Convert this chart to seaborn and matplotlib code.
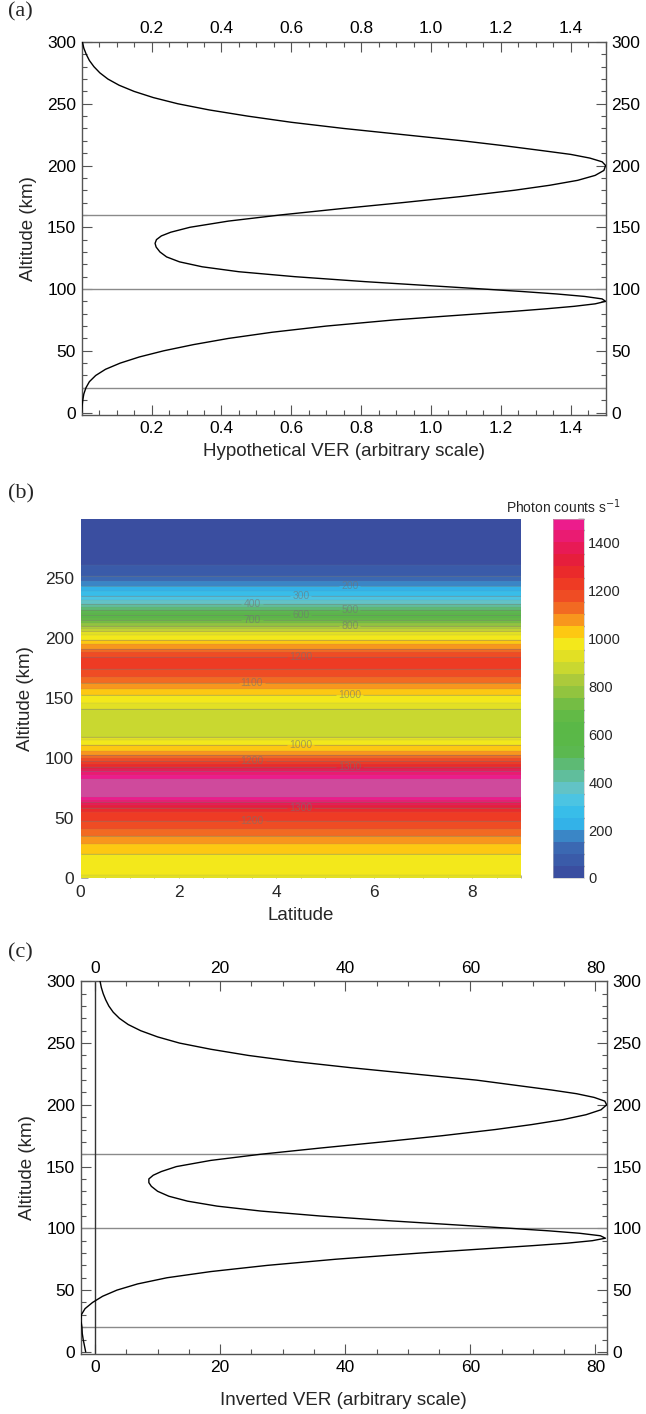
import numpy as np
import matplotlib
matplotlib.use("Agg")
import matplotlib as mpl
import matplotlib.pyplot as plt
from matplotlib.colors import ListedColormap, BoundaryNorm
from matplotlib.ticker import MultipleLocator
import seaborn as sns

# ---------------- data ----------------
# (a) hypothetical VER profile
alt_a = [0, 5, 10, 15, 20, 25, 30, 35, 40, 45, 50, 55, 60, 65, 70, 75,
         78, 80, 82, 84, 86, 88, 90, 92, 94, 96, 98, 100,
         103, 106, 110, 114, 118, 122, 126, 130, 134, 137, 140, 143, 146, 150,
         155, 160, 165, 170, 175, 180,
         184, 188, 192, 196, 200, 203, 206, 209, 212, 216, 220,
         225, 230, 235, 240, 245, 250, 255, 260, 265, 270, 275, 280, 285, 290, 295, 300]
ver_a = [0.000, 0.001, 0.003, 0.006, 0.012, 0.022, 0.040, 0.068, 0.110, 0.165, 0.235,
         0.320, 0.420, 0.545, 0.700, 0.895,
         1.040, 1.140, 1.240, 1.330, 1.410, 1.470, 1.500, 1.490, 1.440, 1.360, 1.260, 1.150,
         0.980, 0.810, 0.610, 0.450, 0.345, 0.280, 0.243, 0.224, 0.213, 0.210, 0.214,
         0.228, 0.255, 0.310,
         0.420, 0.570, 0.740, 0.920, 1.090, 1.240,
         1.340, 1.420, 1.470, 1.495, 1.500, 1.490, 1.455, 1.400, 1.320, 1.210, 1.090,
         0.920, 0.750, 0.600, 0.475, 0.365, 0.275, 0.205, 0.150, 0.107, 0.075, 0.052,
         0.035, 0.022, 0.013, 0.006, 0.002]

# (c) inverted VER profile
alt_c = alt_a
ver_c = [-1.5, -1.7, -1.9, -2.05, -2.1, -2.25, -2.2, -1.6, -0.4, 1.2, 3.5, 6.8, 11.5,
         18.5, 27.5, 38.5,
         46.5, 52.0, 58.0, 64.0, 70.0, 75.5, 79.5, 81.6, 80.8, 77.5, 72.5, 66.5,
         57.0, 47.5, 36.0, 26.5, 19.5, 14.8, 11.8, 10.0, 9.0, 8.6, 8.6, 9.3, 10.6, 13.0,
         18.5, 26.5, 36.0, 46.0, 55.5, 64.0,
         69.8, 74.8, 78.5, 80.9, 81.8, 81.5, 79.8, 77.0, 73.0, 67.0, 61.0,
         51.0, 41.0, 32.0, 24.5, 18.5, 13.5, 10.0, 7.3, 5.3, 3.9, 2.9, 2.2, 1.7, 1.3,
         1.0, 0.8]

ref_lines = [20, 100, 160]

# (b) photon counts vs altitude (constant with latitude)
alt_b = [0, 3, 10, 20, 25, 30, 35, 40, 45, 50, 55, 60, 63, 66, 70, 75, 80, 83, 86, 89,
         92, 96, 100, 103, 106, 110, 115, 118, 125, 130, 135, 141, 146, 152, 156, 160,
         164, 168, 174, 180, 184, 188, 191, 195, 199, 203, 206, 209, 213, 217, 222, 226,
         230, 234, 238, 242, 246, 249, 252, 256, 260, 263, 270, 280, 290, 300]
counts_b = [930, 955, 975, 1000, 1030, 1060, 1100, 1145, 1180, 1215, 1250, 1330, 1400,
            1480, 1530, 1550, 1530, 1500, 1450, 1400, 1320, 1230, 1150, 1100, 1050, 1010,
            960, 900, 880, 875, 880, 900, 950, 990, 1030, 1075, 1110, 1150, 1200, 1230,
            1210, 1160, 1100, 1050, 1000, 950, 900, 830, 750, 650, 540, 450, 380, 320,
            270, 220, 170, 130, 100, 75, 55, 45, 25, 10, 4, 2]
lat_b = [0, 1, 2, 3, 4, 5, 6, 7, 8, 9]
levels_b = list(range(0, 1501, 50))
label_levels_b = list(range(100, 1500, 100))
band_colors = ['#3a4ea0', '#3a5ba9', '#3b68b2', '#3a86c6', '#33b2e8', '#38bde9',
               '#4cc4e2', '#62c3c6', '#60be9c', '#5dba74', '#5bb850', '#5ab848',
               '#5ab847', '#62ba46', '#74bd44', '#92c43f', '#acca3b', '#c9d830',
               '#e2e024', '#f3e81b', '#fdc812', '#f8961d', '#f26a22', '#ef4c24',
               '#ee3b24', '#ea2a2b', '#e61e3c', '#e81a55', '#ea1b72', '#ec1c8c']
over_color = '#cf4a9c'
cbar_ticks = [0, 200, 400, 600, 800, 1000, 1200, 1400]

xticks_a = [0.2, 0.4, 0.6, 0.8, 1.0, 1.2, 1.4]
xticks_b = [0, 2, 4, 6, 8]
xticks_c = [0, 20, 40, 60, 80]
yticks_ac = [0, 50, 100, 150, 200, 250, 300]
yticks_b = [0, 50, 100, 150, 200, 250]

# ---------------- style ----------------
sns.set_theme(style="ticks")
plt.rcParams['font.family'] = ['Liberation Sans', 'DejaVu Sans']
plt.rcParams['xtick.direction'] = 'in'
plt.rcParams['ytick.direction'] = 'in'
SPINE = '#555555'
FS_TICK = 12.5
FS_LAB = 13.5

fig = plt.figure(figsize=(6.46, 14.14), dpi=100)


def style_profile_axes(ax, xticks, xminor, xlim):
    ax.set_xlim(*xlim)
    ax.set_ylim(-2, 300)
    ax.set_xticks(xticks)
    ax.set_yticks(yticks_ac)
    ax.xaxis.set_minor_locator(MultipleLocator(xminor))
    ax.yaxis.set_minor_locator(MultipleLocator(10))
    ax.tick_params(which='both', top=True, right=True, labeltop=True, labelright=True,
                   color=SPINE, width=0.8, labelsize=FS_TICK, labelcolor='black')
    ax.tick_params(which='major', length=7, pad=4)
    ax.tick_params(which='minor', length=3.5)
    for s in ax.spines.values():
        s.set_color(SPINE)
        s.set_linewidth(1.0)
        s.set_visible(True)
    ax.set_ylabel('Altitude (km)', fontsize=FS_LAB, labelpad=7)


# ---- panel (a)
ax_a = fig.add_axes([0.1265, 0.7065, 0.811, 0.2638])
for h in ref_lines:
    ax_a.axhline(h, color='#8a8a8a', lw=1.0, zorder=1)
sns.lineplot(x=ver_a, y=alt_a, sort=False, estimator=None, color='black', lw=1.0,
             ax=ax_a, zorder=3)
style_profile_axes(ax_a, xticks_a, 0.05, (0, 1.5))
ax_a.set_xticklabels([f'{v:.1f}' for v in xticks_a])
ax_a.set_xlabel('Hypothetical VER (arbitrary scale)', fontsize=FS_LAB, labelpad=5)

# ---- panel (b)
ax_b = fig.add_axes([0.1249, 0.3791, 0.6816, 0.2542])
Z = np.tile(np.array(counts_b, dtype=float)[:, None], (1, len(lat_b)))
cmap = ListedColormap(band_colors)
cmap.set_over(over_color)
norm = BoundaryNorm(levels_b, cmap.N)
ax_b.contourf(lat_b, alt_b, Z, levels=levels_b, cmap=cmap, norm=norm, extend='max')
ax_b.contour(lat_b, alt_b, Z, levels=levels_b, colors='0.5', linewidths=0.3, alpha=0.35)
cs = ax_b.contour(lat_b, alt_b, Z, levels=label_levels_b, colors='0.45',
                  linewidths=0.4, alpha=0.6)
# label positions derived from the profile crossings, alternated in latitude
crossings = []
for L in label_levels_b:
    for i in range(len(alt_b) - 1):
        c0, c1 = counts_b[i], counts_b[i + 1]
        if (c0 - L) * (c1 - L) < 0:
            crossings.append(alt_b[i] + (L - c0) * (alt_b[i + 1] - alt_b[i]) / (c1 - c0))
crossings.sort()
xs_cycle = [3.5, 4.5, 5.5]
positions = [(xs_cycle[k % 3], a) for k, a in enumerate(crossings)]
ax_b.clabel(cs, manual=positions, fmt='%d', fontsize=7.5, inline=True, inline_spacing=2)
ax_b.set_xlim(0, 9)
ax_b.set_ylim(0, 300)
ax_b.set_xticks(xticks_b)
ax_b.set_yticks(yticks_b)
ax_b.xaxis.set_minor_locator(MultipleLocator(0.5))
ax_b.tick_params(which='both', color='#9a9a9a', width=0.6, labelsize=FS_TICK)
ax_b.tick_params(which='major', length=5, pad=5)
ax_b.tick_params(which='minor', length=2.5)
for s in ax_b.spines.values():
    s.set_visible(False)
ax_b.set_ylabel('Altitude (km)', fontsize=FS_LAB, labelpad=8)
ax_b.set_xlabel('Latitude', fontsize=FS_LAB, labelpad=5)

cax = fig.add_axes([0.856, 0.3791, 0.048, 0.2542])
sm = mpl.cm.ScalarMappable(norm=norm, cmap=ListedColormap(band_colors))
cb = fig.colorbar(sm, cax=cax, ticks=cbar_ticks, extend='neither')
cb.outline.set_linewidth(0.4)
cb.outline.set_edgecolor('#bbbbbb')
cax.tick_params(length=0, labelsize=10.5, pad=3)
fig.text(506 / 646, 1 - 507 / 1414, 'Photon counts s$^{-1}$', fontsize=10,
         ha='left', va='center')

# ---- panel (c)
ax_c = fig.add_axes([0.1249, 0.0422, 0.8142, 0.2638])
for h in ref_lines:
    ax_c.axhline(h, color='#8a8a8a', lw=1.0, zorder=1)
ax_c.axvline(0, color='#333333', lw=1.0, zorder=2)
sns.lineplot(x=ver_c, y=alt_c, sort=False, estimator=None, color='black', lw=1.0,
             ax=ax_c, zorder=3)
style_profile_axes(ax_c, xticks_c, 5, (-2.3, 81.8))
ax_c.set_xlabel('Inverted VER (arbitrary scale)', fontsize=FS_LAB, labelpad=12)

# panel letters
for lab, yy in [('(a)', 12), ('(b)', 494), ('(c)', 953)]:
    fig.text(8 / 646, 1 - yy / 1414, lab, fontsize=16, family='Liberation Serif',
             ha='left', va='center')

fig.savefig('out.png', dpi=100)
